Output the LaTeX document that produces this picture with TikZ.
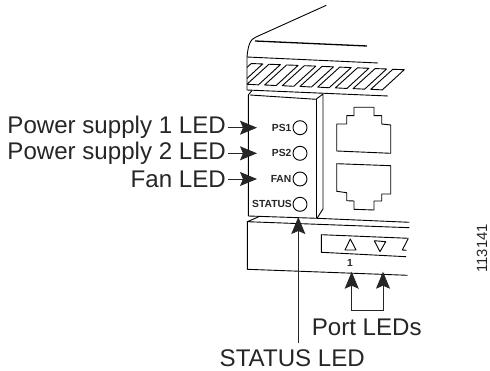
\documentclass[tikz,border=0pt]{standalone}
\usepackage{fontspec}
\setmainfont{Liberation Sans}
\usetikzlibrary{positioning,arrows.meta}
\tikzstyle{callout}=[font=\fontsize{24.1}{25}\selectfont,text=black!85,inner sep=2pt]
\tikzstyle{ledname}=[font=\fontsize{10.3}{11}\selectfont\bfseries,text=black!85,inner sep=0pt]
\tikzstyle{led}=[circle,draw=black,line width=0.9pt,inner sep=0pt,minimum size=14pt]
\tikzstyle{ledarrow}=[draw=black!85,line width=0.9pt,-{Stealth[length=17pt,width=14pt,inset=3pt]}]
\tikzstyle{chassis}=[draw=black,line width=0.9pt,line join=round]

\begin{document}
\begin{tikzpicture}[x=1pt,y=-1pt]
      \useasboundingbox (0,0) rectangle (490,371);
      % top of the chassis
      \draw [chassis] (326.3,5.3) -- (256,37) .. controls (250,39) and (248,46) .. (247,57) -- (247,90) -- (388,96);
      \draw [chassis] (247,57) -- (378,63);
      \draw [chassis,line width=1.3pt] (255,41) -- (367,46);
      % vent slats
      \begin{scope}
        \clip (247,50) rectangle (420,100);
        \foreach \n in {0,...,8}
          \draw [chassis] ({404.3-\n*17.7},{69.7-\n*0.72}) -- ++(-11.5,-0.4) -- ++(-22,20) -- ++(11.5,0.6) -- cycle;
      \end{scope}
      % LED panel
      \draw [chassis] (252,90.5) -- (248.3,95) -- (248.3,216) -- (317,218.3) -- (323,209) -- (323,94) -- (316,99.3) -- (250,95);
      \draw [chassis] (316,99.3) -- (316,218);
      % RJ45 ports
      \draw [chassis] (336.7,124) -- (346.7,124) -- (346.7,115.7) -- (354,115.7) -- (354,107.3) -- (374,107.3) -- (374,115.7) -- (381.7,115.7) -- (381.7,124) -- (390.7,125) -- (390.7,153.3) -- (336.7,151) -- cycle;
      \draw [chassis] (336.7,163.7) -- (390.7,165.7) -- (390.7,194) -- (381.7,194) -- (381.7,201) -- (374,201) -- (374,210) -- (354,209.3) -- (354,201) -- (346.7,200.7) -- (346.7,192.7) -- (336.7,191.3) -- cycle;
      % lower part
      \draw [chassis] (258.3,217) -- (247.3,221.7) -- (409.3,227.7);
      \draw [chassis] (317,218.3) -- (409.3,222.3);
      \draw [chassis] (247.3,221.7) -- (247.3,269.3) -- (407.7,275.3);
      \draw [chassis] (408.7,238.3) -- (321.3,234.7) -- (321.3,252.3) -- (406,256.7);
      \draw [chassis] (345,250) -- (356,250) -- (350.3,239) -- cycle;
      \draw [chassis] (374.3,240.7) -- (385.7,241.7) -- (380,251.7) -- cycle;
      \draw [chassis] (408,239) -- (402.3,250) -- (406.7,250.3);
      % LEDs and their names
      \node [led] (ps1led) at (300,127.7) {};
      \node [led] (ps2led) at (300,153.3) {};
      \node [led] (fanled) at (300,179) {};
      \node [led] (statusled) at (300,204.3) {};
      \node [ledname] (ps1name) [left=1pt of ps1led] {PS1};
      \node [ledname] (ps2name) [left=1pt of ps2led] {PS2};
      \node [ledname] (fanname) [left=1pt of fanled] {FAN};
      \node [ledname] (statusname) [left=0.5pt of statusled] {STATUS};
      \node [ledname] (portone) at (350,262.7) {1};
      % callouts
      \node [callout,anchor=east] (ps1label) at (228,127.7) {Power supply 1 LED};
      \node [callout,anchor=east] (ps2label) at (228,153.3) {Power supply 2 LED};
      \node [callout,anchor=east] (fanlabel) at (228,179) {Fan LED};
      \node [callout,anchor=east] (statuslabel) at (367,358) {STATUS LED};
      \node [callout] (portlabel) at (366.7,327.7) {Port LEDs};
      \node [font=\fontsize{14.8}{15}\selectfont,text=black!85,rotate=90,inner sep=0pt] (figid) at (482,248.3) {113141};
      \coordinate (ps1tip) at (257,127.7);
      \coordinate (ps2tip) at (257,153.3);
      \coordinate (fantip) at (257,179);
      \coordinate (statustip) at (298.3,217);
      \coordinate (statustail) at (298.3,343.3);
      \coordinate (port1tip) at (351.7,271.7);
      \coordinate (port2tip) at (383,271.7);
      \coordinate (port1low) at (351.7,310);
      \coordinate (port2low) at (383,310);
      \draw [ledarrow] (ps1label.east) -- (ps1tip);
      \draw [ledarrow] (ps2label.east) -- (ps2tip);
      \draw [ledarrow] (fanlabel.east) -- (fantip);
      \draw [ledarrow] (statustail) -- (statustip);
      \draw [ledarrow,{Stealth[length=17pt,width=14pt,inset=3pt]}-{Stealth[length=17pt,width=14pt,inset=3pt]}] (port1tip) -- (port1low) -- (port2low) -- (port2tip);
    \end{tikzpicture}
\end{document}
